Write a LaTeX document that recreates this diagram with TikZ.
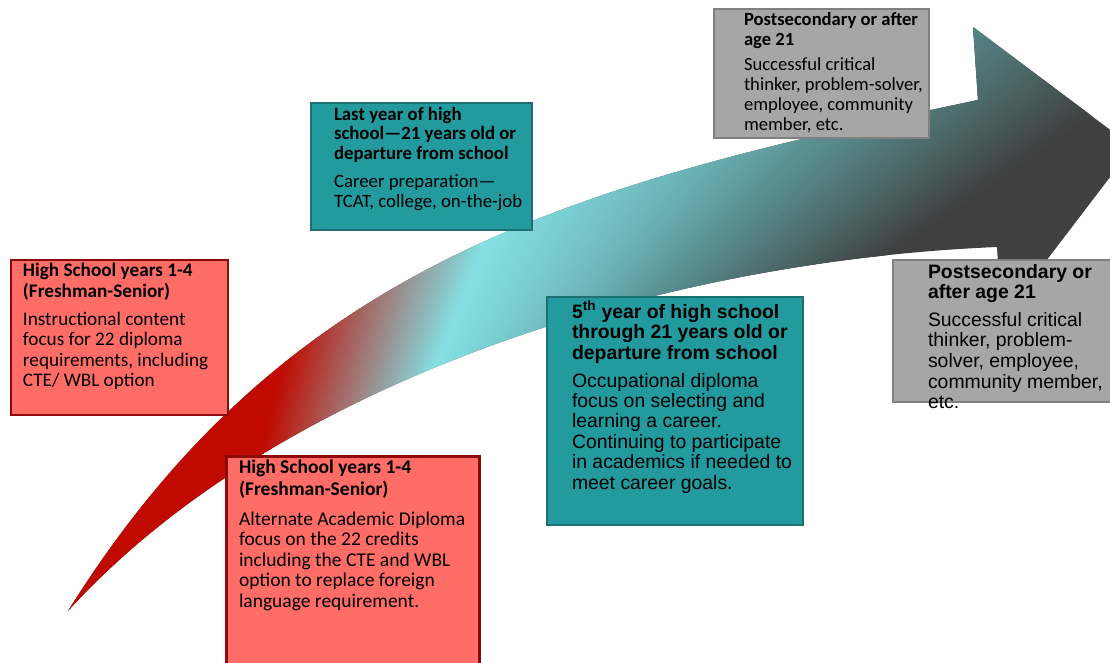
\documentclass[tikz,border=0pt]{standalone}
\usepackage{fontspec}
\setmainfont{Carlito}
\newfontfamily\arialf{Liberation Sans}
\usetikzlibrary{calc}

\definecolor{arrred}{HTML}{C00A00}
\definecolor{arrgray}{HTML}{9A8E8E}
\definecolor{arrcyan}{HTML}{84DFE3}
\definecolor{arrteal}{HTML}{5B9597}
\definecolor{arrdark}{HTML}{404040}
\definecolor{redfill}{HTML}{FF6D66}
\definecolor{redline}{HTML}{8B0A0A}
\definecolor{tealfill}{HTML}{239A9E}
\definecolor{tealline}{HTML}{1D6F72}
\definecolor{grayfill}{HTML}{A6A6A6}
\definecolor{grayline}{HTML}{808080}

% one gradient segment: #1 top a, #2 bottom a, #3 top b, #4 bottom b, #5 colour a, #6 colour b
\newcommand\gradseg[6]{%
  \foreach \i in {0,...,39}{%
    \pgfmathsetmacro\ta{\i/40}%
    \pgfmathsetmacro\tb{(\i+1.6)/40}%
    \pgfmathtruncatemacro\pc{100*(\i+0.5)/40}%
    \fill[#6!\pc!#5] ($#1!\ta!#3$) -- ($#1!\tb!#3$) -- ($#2!\tb!#4$) -- ($#2!\ta!#4$) -- cycle;
  }}

\tikzset{
  boxbase/.style={anchor=north west, inner sep=0pt, outer sep=0pt},
  redbox/.style={boxbase, fill=redfill, draw=redline, line width=2pt},
  tealbox/.style={boxbase, fill=tealfill, draw=tealline, line width=2pt},
  graybox/.style={boxbase, fill=grayfill, draw=grayline, line width=2pt},
  txt/.style={anchor=north west, inner sep=0pt, outer sep=0pt, align=left, text=black},
}

\def\arrowpath{(68,611) .. controls (288,259) and (578,184) .. (978,100) -- (973,27) -- (1133,147) -- (1001,320) -- (997,247) .. controls (640,262) and (268,391) .. (68,611) -- cycle}

\begin{document}
\begin{tikzpicture}[x=1pt,y=-1pt]
\useasboundingbox (0,0) rectangle (1110,662);

% curved arrow with gradient
\begin{scope}
  \clip \arrowpath;
  \fill[arrdark] (-10,-10) rectangle (1200,700);
  \fill[arrred] (320,200) -- (236,560) -- (200,720) -- (-10,720) -- (-10,200) -- cycle;
  \gradseg{(320,200)}{(236,560)}{(426,200)}{(318,560)}{arrred}{arrgray}
  \gradseg{(426,200)}{(318,560)}{(521,150)}{(371,520)}{arrgray}{arrcyan}
  \gradseg{(521,150)}{(371,520)}{(940,0)}{(520,420)}{arrcyan}{arrteal}
  \gradseg{(940,0)}{(520,420)}{(1255,0)}{(646,420)}{arrteal}{arrdark}
\end{scope}

% boxes
\node[redbox, minimum width=217pt, minimum height=155pt] (boxA) at (11,260) {};
\node[redbox, line width=3pt, minimum width=253pt, minimum height=224pt] (boxB) at (226,456) {};
\node[tealbox, minimum width=221pt, minimum height=127pt] (boxC) at (311,103) {};
\node[tealbox, line width=2.5pt, minimum width=256pt, minimum height=228pt] (boxD) at (547,297) {};
\node[graybox, minimum width=215pt, minimum height=129pt] (boxE) at (714,9) {};
\node[graybox, line width=2.5pt, minimum width=227pt, minimum height=142pt] (boxF) at (893,260) {};

% texts
\node[txt, font=\fontsize{19.2}{20.5}\selectfont] (textA) at (23,262.4) {\strut\textbf{High School years 1-4}\\
\textbf{(Freshman-Senior)}\\[7.5pt]
Instructional content\\
focus for 22 diploma\\
requirements, including\\
CTE/ WBL option};

\node[txt, font=\fontsize{19.5}{20.5}\selectfont] (textB) at (239,459.2) {\strut\textbf{High School years 1-4}\\
\textbf{(Freshman-Senior)}\\[9.5pt]
Alternate Academic Diploma\\
focus on the 22 credits\\
including the CTE and WBL\\
option to replace foreign\\
language requirement.};

\node[txt, font=\fontsize{18.8}{19.5}\selectfont] (textC) at (334,106.8) {\strut\textbf{Last year of high}\\
\textbf{school—21 years old or}\\
\textbf{departure from school}\\[9pt]
Career preparation—\\
TCAT, college, on-the-job};

\node[txt, font=\arialf\fontsize{19.4}{20.4}\selectfont] (textD) at (572,301) {\strut\textbf{5\textsuperscript{th} year of high school}\\
\textbf{through 21 years old or}\\
\textbf{departure from school}\\[7.5pt]
Occupational diploma\\
focus on selecting and\\
learning a career.\\
Continuing to participate\\
in academics if needed to\\
meet career goals.};

\node[txt, font=\fontsize{18.6}{19.7}\selectfont] (textE) at (744,11.8) {\strut\textbf{Postsecondary or after}\\
\textbf{age 21}\\[6pt]
Successful critical\\
thinker, problem-solver,\\
employee, community\\
member, etc.};

\node[txt, font=\arialf\fontsize{19.4}{20.6}\selectfont] (textF) at (928,263.6) {\strut\textbf{Postsecondary or}\\
\textbf{after age 21}\\[7pt]
Successful critical\\
thinker, problem-\\
solver, employee,\\
community member,\\
etc.};
\end{tikzpicture}
\end{document}
